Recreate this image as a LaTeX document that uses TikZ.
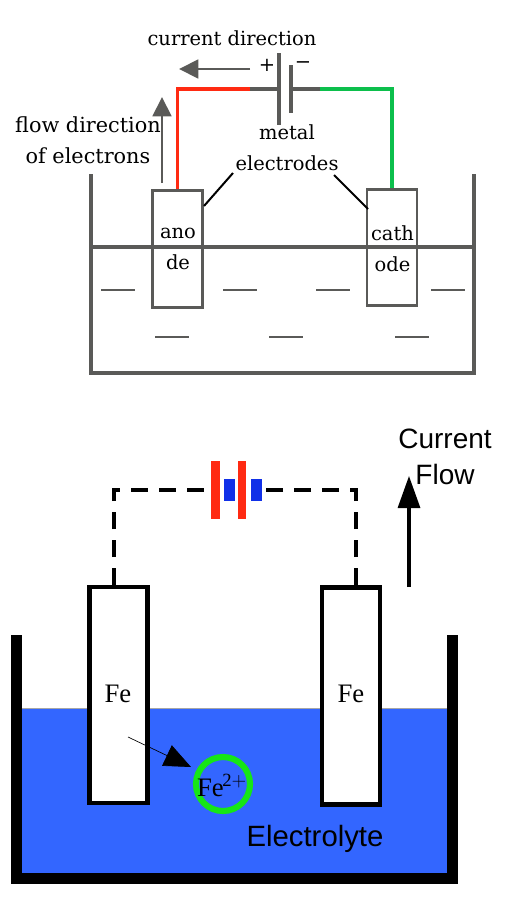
\documentclass[tikz,border=0pt]{standalone}
\usepackage{fontspec}
\setmainfont{Liberation Serif}
\setsansfont{Liberation Sans}
\newfontfamily\slabfont{DejaVu Serif}
\usetikzlibrary{arrows.meta,calc}
\definecolor{tankgray}{HTML}{5A5A58}
\definecolor{wirered}{HTML}{FF2A12}
\definecolor{wiregreen}{HTML}{0CBF4C}
\definecolor{waterblue}{HTML}{3366FF}
\definecolor{cellblue}{HTML}{1030E8}
\definecolor{ringgreen}{HTML}{16E616}

\begin{document}
\begin{tikzpicture}[
  x=0.75pt, y=-0.75pt,
  sketch/.style={font=\slabfont\fontsize{14.6}{23}\selectfont, align=center, inner sep=0pt},
  gline/.style={tankgray, line width=2.3pt},
  ion/.style={tankgray, line width=1.8pt},
  grayarrow/.style={-{Triangle[length=14.5pt, width=14pt]}, tankgray, line width=2.1pt},
  rod/.style={rectangle, draw=tankgray, line width=2.1pt, minimum width=38pt, minimum height=88pt, inner sep=0pt},
  leader/.style={black, line width=1.5pt},
  fe/.style={rectangle, draw=black, fill=white, line width=3.4pt, minimum width=43.5pt, minimum height=162pt, inner sep=0pt},
  felabel/.style={font=\fontsize{20}{22}\selectfont, inner sep=0pt},
  dashwire/.style={black, line width=2.4pt, dash pattern=on 12.5pt off 8.5pt},
  redbar/.style={rectangle, fill=wirered, minimum width=6.6pt, minimum height=44pt, inner sep=0pt},
  bluebar/.style={rectangle, fill=cellblue, minimum width=8.4pt, minimum height=16.5pt, inner sep=0pt},
  sans/.style={font=\sffamily\fontsize{21}{26.5}\selectfont, align=center, inner sep=0pt},
]
\useasboundingbox (0,0) rectangle (510,900);

% === TOP CELL ===
\draw[gline] (91,174) |- (474,373) -- (474,174);
\draw[gline] (91,247) -- (474,247);

\node[rod] (anode) at (177.5,249) {};
\node[rod, minimum width=37.5pt, minimum height=87pt] (cathode) at (392,247.5) {};

\coordinate (plus top) at (279,53);
\coordinate (plus bot) at (279,125);
\coordinate (minus top) at (291,65);
\coordinate (minus bot) at (291,113);
\coordinate (redend) at (250,89);
\coordinate (greenend) at (320,89);
\draw[gline] (plus top) -- (plus bot);
\draw[gline] (minus top) -- (minus bot);
\draw[gline] (redend) -- (plus top |- redend);
\draw[gline] (minus top |- greenend) -- (greenend);
\draw[wirered, line width=2.3pt] (anode.north) |- (redend);
\draw[wiregreen, line width=2.3pt] (cathode.north) |- (greenend);

\node[sketch] (curdir) at (232,38) {current direction};
\node[sketch] (plus) at (267,65) {+};
\node[sketch] (minus) at (303,65) {\textminus};
\node[sketch, font=\slabfont\fontsize{15.6}{23}\selectfont] (flowdir) at (88,140) {flow direction\\of electrons};
\node[sketch] (metal) at (287,148) {metal\\electrodes};
\node[sketch] (anolabel) at (178,249) {ano\\de};
\node[sketch] (cathlabel) at (392.5,249) {cath\\ode};

% arrows
\coordinate (curtail) at (250,69);
\coordinate (curtip) at (179,69);
\coordinate (flowtail) at (162,183);
\coordinate (flowtip) at (162,97);
\draw[grayarrow] (curtail) -- (curtip);
\draw[grayarrow] (flowtail) -- (flowtip);

% leaders
\coordinate (leadl) at (233,173);
\coordinate (leadr) at (334,175);
\coordinate (rodl) at (204,206);
\coordinate (rodr) at (368,209);
\draw[leader] (leadl) -- (rodl);
\draw[leader] (leadr) -- (rodr);

% ions
\foreach \xa/\ya in {101/290,223/290,316/290,431/290,155/337,269/337,395/337}
  \draw[ion] (\xa,\ya) -- ++(34,0);

% === BOTTOM CELL ===
\fill[waterblue] (22,708) rectangle (447,873);
\draw[gray!70, line width=0.5pt] (22,708) -- (447,708);
\draw[black, line width=8.25pt] (16.5,635) |- (452.5,878.5) -- (452.5,635);

\node[fe] (feleft) at (118.5,695) {};
\node[fe, minimum height=163pt] (feright) at (351,696) {};
\node[felabel] at (118,694) {Fe};
\node[felabel] at (351,694) {Fe};

\node[redbar] (bara) at (215.5,490) {};
\node[redbar] (barb) at (242,490) {};
\node[bluebar] (cella) at (229.5,490) {};
\node[bluebar] (cellb) at (256.5,490) {};

\coordinate (wirel) at (114,585);
\coordinate (wirer) at (356,585);
\draw[dashwire] (wirel) |- (bara.west);
\draw[dashwire] (wirer) |- (cellb.east);

\node[circle, draw=ringgreen, line width=4.6pt, minimum size=40.5pt, inner sep=0pt] (ring) at (223,784) {};
\node[font=\fontsize{20}{22}\selectfont, inner sep=0pt] (feion) at (222,785) {Fe\kern-1pt$^{\mathrm{2+}}$};

\coordinate (iontail) at (128,737);
\coordinate (iontip) at (191,767);
\draw[black, line width=0.5pt, -{Triangle[length=20pt, width=17pt]}] (iontail) -- (iontip);

\coordinate (flowstart) at (409,587);
\coordinate (flowend) at (409,476);
\draw[black, line width=2.3pt, -{Triangle[length=24pt, width=16.5pt]}] (flowstart) -- (flowend);

\node[sans] (curflow) at (445,457) {Current\\Flow};
\node[sans, font=\sffamily\fontsize{22}{26}\selectfont] (electro) at (315,839) {Electrolyte};
\end{tikzpicture}
\end{document}
